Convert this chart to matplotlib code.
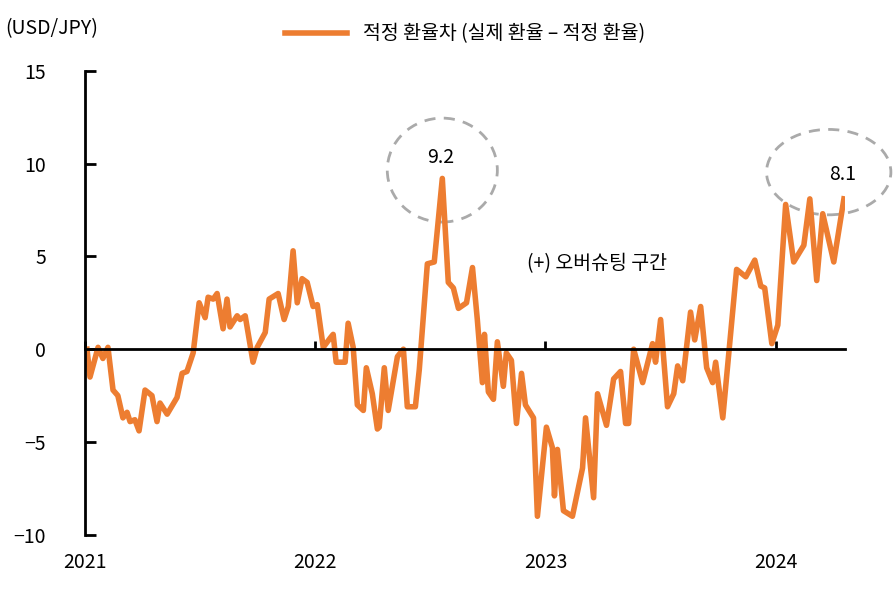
import matplotlib
matplotlib.use("Agg")
from matplotlib import pyplot as plt
from matplotlib.patches import Ellipse

plt.rcParams["font.family"] = ["Noto Sans CJK KR", "Noto Sans CJK JP", "Noto Sans CJK SC",
                               "DejaVu Sans"]
plt.rcParams["axes.unicode_minus"] = False

# 2021년 1월 기준 경과 연수, 적정 환율차
years = [0.009, 0.022, 0.057, 0.078, 0.100, 0.122, 0.143, 0.165, 0.183, 0.196, 0.217, 0.235,
         0.261, 0.291, 0.313, 0.326, 0.357, 0.400, 0.422, 0.443, 0.470, 0.496, 0.522, 0.535,
         0.557, 0.574, 0.600, 0.617, 0.630, 0.661, 0.674, 0.696, 0.730, 0.748, 0.783, 0.800,
         0.839, 0.865, 0.883, 0.904, 0.922, 0.943, 0.965, 0.991, 1.009, 1.035, 1.065,
         1.078, 1.091, 1.130, 1.143, 1.165, 1.183, 1.209, 1.222, 1.248, 1.270, 1.278, 1.300,
         1.317, 1.357, 1.383, 1.400, 1.435, 1.452, 1.487, 1.517, 1.552, 1.578, 1.600, 1.622,
         1.657, 1.683, 1.704, 1.726, 1.735, 1.752, 1.774, 1.791, 1.817, 1.830, 1.852, 1.874,
         1.896, 1.913, 1.948, 1.965, 2.004,
         2.030, 2.039, 2.052, 2.078, 2.117, 2.161, 2.174, 2.209, 2.226, 2.265, 2.296, 2.326,
         2.348, 2.361, 2.383, 2.422, 2.465, 2.478, 2.500, 2.530, 2.557, 2.574, 2.596, 2.630,
         2.648, 2.674, 2.700, 2.726, 2.739, 2.770, 2.830, 2.870, 2.909, 2.935, 2.952, 2.983,
         3.009, 3.043, 3.078, 3.122, 3.148, 3.178, 3.204, 3.252, 3.296]
gap = [0.0, -1.5, 0.1, -0.5, 0.1, -2.2, -2.5, -3.7, -3.4, -3.9, -3.8, -4.4,
       -2.2, -2.5, -3.9, -2.9, -3.5, -2.6, -1.3, -1.2, -0.2, 2.5, 1.7, 2.8,
       2.7, 3.0, 1.1, 2.7, 1.2, 1.8, 1.6, 1.8, -0.7, 0.1, 0.9, 2.7,
       3.0, 1.6, 2.3, 5.3, 2.5, 3.8, 3.6, 2.3, 2.4, 0.1, 0.6,
       0.8, -0.7, -0.7, 1.4, 0.1, -3.0, -3.3, -1.0, -2.4, -4.3, -4.2, -1.0,
       -3.3, -0.4, 0.0, -3.1, -3.1, -1.1, 4.6, 4.7, 9.2, 3.6, 3.3, 2.2,
       2.5, 4.4, 1.6, -1.8, 0.8, -2.3, -2.7, 0.4, -2.0, -0.2, -0.6, -4.0,
       -1.3, -3.0, -3.7, -9.0, -4.2,
       -5.3, -7.9, -5.4, -8.7, -9.0, -6.4, -3.7, -8.0, -2.4, -4.1, -1.6, -1.2,
       -4.0, -4.0, 0.0, -1.8, 0.3, -0.7, 1.6, -3.1, -2.4, -0.9, -1.7, 2.0,
       0.5, 2.3, -1.0, -1.8, -0.7, -3.7, 4.3, 3.9, 4.8, 3.4, 3.3, 0.3,
       1.3, 7.8, 4.7, 5.6, 8.1, 3.7, 7.3, 4.7, 8.1]
year_labels = ["2021", "2022", "2023", "2024"]
y_ticks = [-10, -5, 0, 5, 10, 15]

color = "#ED7D31"
fig = plt.figure(figsize=(8.94, 6.05), dpi=100)
ax = fig.add_axes([0.095, 0.116, 0.85, 0.767])

ax.plot(years, gap, color=color, lw=4, solid_joinstyle="round",
        label="적정 환율차 (실제 환율 – 적정 환율)")
ax.set_xlim(0, 3.3)
ax.set_ylim(-10, 15)

ax.spines["top"].set_visible(False)
ax.spines["right"].set_visible(False)
ax.spines["bottom"].set_position(("data", 0))
ax.spines["bottom"].set_linewidth(2)
ax.spines["left"].set_linewidth(2)

ax.set_yticks(y_ticks)
ax.set_yticklabels([str(v) if v >= 0 else "−" + str(-v) for v in y_ticks])
ax.tick_params(axis="y", direction="in", length=8, width=2, labelsize=14, pad=28)
ax.set_xticks(range(len(year_labels)))
ax.set_xticklabels([])
ax.tick_params(axis="x", direction="in", length=6, width=2)
for i, lab in enumerate(year_labels):
    ax.text(i, -11.5, lab, ha="center", va="center", fontsize=14, clip_on=False)

# 점선 원 강조
ax.add_patch(Ellipse((1.552, 9.65), 0.478, 5.6, fill=False, ls=(0, (4, 3)),
                     ec="#AAAAAA", lw=2))
ax.add_patch(Ellipse((3.23, 9.54), 0.54, 4.6, fill=False, ls=(0, (4, 3)),
                     ec="#AAAAAA", lw=2, clip_on=False))
ax.text(1.545, 10.35, "9.2", ha="center", va="center", fontsize=14)
ax.text(3.29, 9.43, "8.1", ha="center", va="center", fontsize=14)
ax.text(1.92, 4.6, "(+) 오버슈팅 구간", ha="left", va="center", fontsize=14)

fig.text(0.006, 0.953, "(USD/JPY)", ha="left", va="center", fontsize=14)
ax.legend(loc="upper center", bbox_to_anchor=(0.5, 1.14), frameon=False,
          fontsize=14, handlelength=3.2)

fig.savefig("out.png", dpi=100)
